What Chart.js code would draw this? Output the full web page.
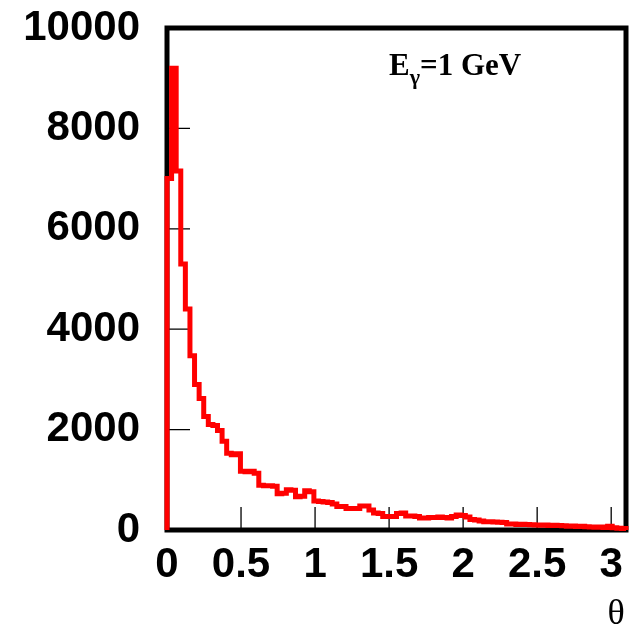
<!DOCTYPE html>
<html>
<head>
<meta charset="utf-8">
<script src="https://cdn.jsdelivr.net/npm/chart.js@4.4.0/dist/chart.umd.min.js"></script>
<style>
  html, body { margin: 0; padding: 0; background: #fff; }
</style>
</head>
<body>
<canvas id="thetaChart" width="632" height="629"></canvas>
<script>
// histogram of theta, 100 bins from 0 to 3.1
const binWidth = 0.031;
const xMax = 3.1;
const counts = [
    7000, 9200, 7150, 5300, 4400, 3470, 2900, 2620, 2260, 2100,
    2080, 1980, 1770, 1530, 1500, 1520, 1170, 1160, 1170, 1130,
    890, 880, 880, 870, 720, 730, 800, 790, 660, 670,
    780, 760, 580, 570, 560, 550, 520, 470, 470, 430,
    430, 430, 480, 480, 400, 340, 330, 270, 270, 270,
    330, 340, 280, 280, 270, 240, 240, 250, 250, 260,
    250, 240, 270, 300, 290, 260, 210, 200, 180, 165,
    165, 160, 155, 150, 120, 120, 110, 115, 110, 105,
    100, 95, 100, 90, 95, 90, 85, 75, 80, 70,
    75, 65, 60, 55, 60, 50, 75, 45, 35, 30
];
const xTicks = [0, 0.5, 1, 1.5, 2, 2.5, 3];
const yTicks = [0, 2000, 4000, 6000, 8000, 10000];
const axisTitle = 'θ';

// outline points at bin left edges, stepped
const outline = [{ x: 0, y: 0 }];
counts.forEach((c, i) => outline.push({ x: +(i * binWidth).toFixed(4), y: c }));
outline.push({ x: xMax, y: counts[counts.length - 1] });
outline.push({ x: xMax, y: 0 });

const framePlugin = {
    id: 'frame',
    beforeDatasetsDraw(chart) {
        const { ctx, chartArea: a, scales: { x, y } } = chart;
        ctx.save();
        ctx.strokeStyle = '#000';
        ctx.lineWidth = 1.3;
        ctx.beginPath();
        xTicks.forEach(v => {
            const px = x.getPixelForValue(v);
            ctx.moveTo(px, a.bottom);
            ctx.lineTo(px, a.bottom - 23);
        });
        yTicks.forEach(v => {
            const py = y.getPixelForValue(v);
            ctx.moveTo(a.left, py);
            ctx.lineTo(a.left + 23, py);
        });
        ctx.stroke();
        ctx.lineWidth = 5;
        ctx.strokeRect(a.left, a.top, a.right - a.left, a.bottom - a.top);
        ctx.restore();
    },
    afterDraw(chart) {
        const { ctx, chartArea: a } = chart;
        ctx.save();
        ctx.fillStyle = '#000';
        ctx.textBaseline = 'alphabetic';
        ctx.textAlign = 'left';
        let tx = a.left + 222;
        const ty = a.top + 47;
        ctx.font = 'bold 31px "Liberation Serif"';
        ctx.fillText('E', tx, ty);
        tx += ctx.measureText('E').width;
        ctx.font = 'bold 22px "Liberation Serif"';
        ctx.fillText('γ', tx, ty + 9);
        tx += ctx.measureText('γ').width;
        ctx.font = 'bold 31px "Liberation Serif"';
        ctx.fillText('=1 GeV', tx, ty);
        ctx.font = '36px "Liberation Serif"';
        ctx.textAlign = 'center';
        ctx.fillText(axisTitle, a.right - 10, 624);
        ctx.restore();
    }
};

const ctx = document.getElementById('thetaChart').getContext('2d');
new Chart(ctx, {
    type: 'line',
    data: {
        datasets: [{
            data: outline,
            borderColor: '#ff0000',
            borderWidth: 5,
            stepped: 'before',
            fill: false,
            pointRadius: 0,
            borderJoinStyle: 'miter',
            borderCapStyle: 'butt',
            clip: false
        }]
    },
    options: {
        responsive: false,
        animation: false,
        devicePixelRatio: 1,
        layout: { padding: { top: 28, right: 6, left: 0, bottom: 0 } },
        plugins: { legend: { display: false }, tooltip: { enabled: false } },
        scales: {
            x: {
                type: 'linear',
                min: 0,
                max: xMax,
                afterBuildTicks: s => { s.ticks = xTicks.map(v => ({ value: v })); },
                afterFit: s => { s.height = 99; s.paddingLeft = 0; s.paddingRight = 0; },
                grid: { display: false, drawTicks: false },
                border: { display: false },
                ticks: {
                    color: '#000',
                    padding: 10,
                    maxRotation: 0,
                    autoSkip: false,
                    font: { family: '"Liberation Sans"', weight: 'bold', size: 42 },
                    callback: v => String(v)
                }
            },
            y: {
                min: 0,
                max: 10000,
                afterBuildTicks: s => { s.ticks = yTicks.map(v => ({ value: v })); },
                afterFit: s => { s.width = 167; s.paddingTop = 0; s.paddingBottom = 0; },
                grid: { display: false, drawTicks: false },
                border: { display: false },
                ticks: {
                    color: '#000',
                    padding: 27,
                    autoSkip: false,
                    font: { family: '"Liberation Sans"', weight: 'bold', size: 42 },
                    callback: v => String(v)
                }
            }
        }
    },
    plugins: [framePlugin]
});
</script>
</body>
</html>
